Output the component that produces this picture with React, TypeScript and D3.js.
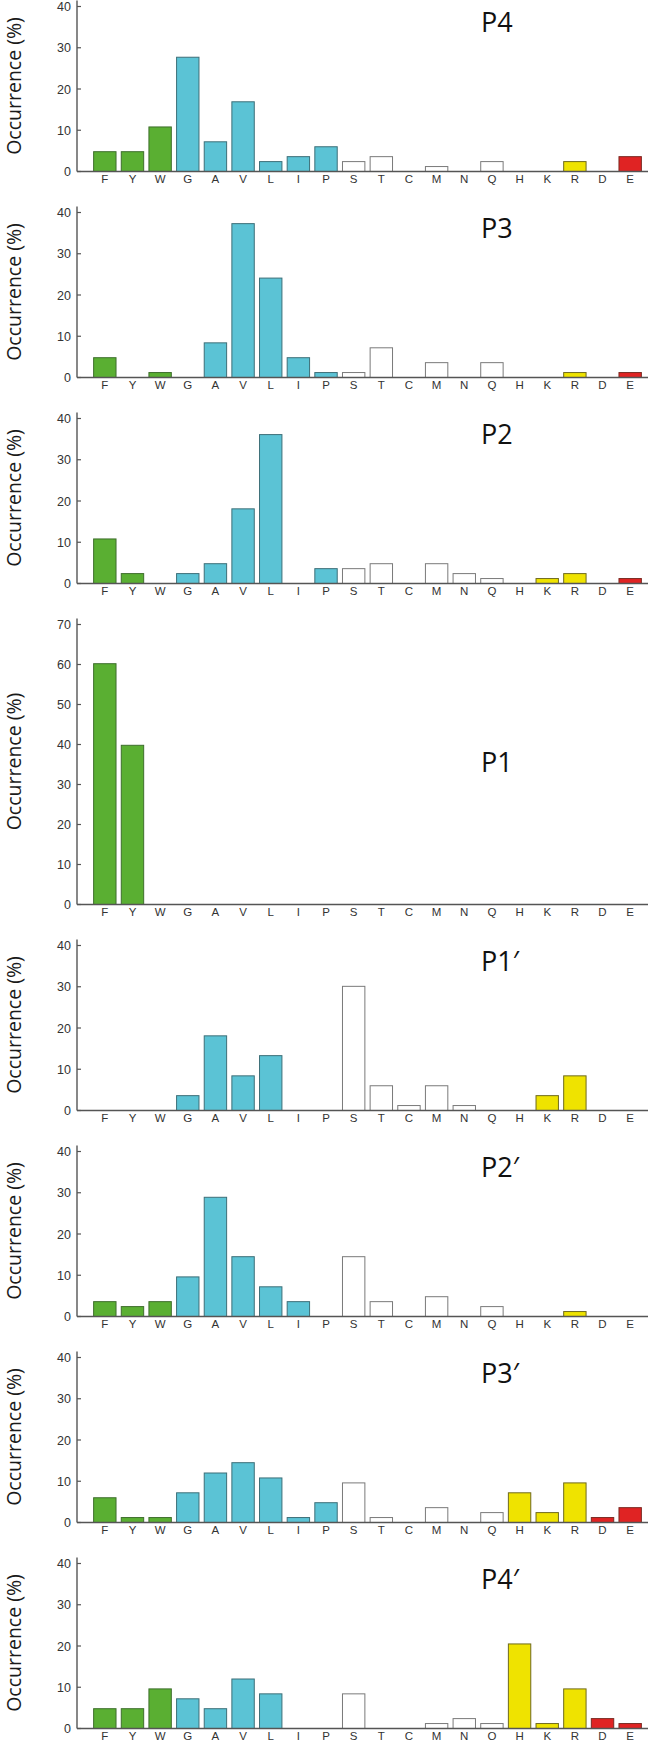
import React from "react";
import * as d3 from "d3";

const CATEGORIES = ["F","Y","W","G","A","V","L","I","P","S","T","C","M","N","Q","H","K","R","D","E"];
const GROUPS = ["aro","aro","aro","hyd","hyd","hyd","hyd","hyd","hyd","pol","pol","pol","pol","pol","pol","pos","pos","pos","neg","neg"];

const PANEL_NAMES = ["P4","P3","P2","P1","P1\u2032","P2\u2032","P3\u2032","P4\u2032"];
const PANEL_MAX = [40, 40, 40, 70, 40, 40, 40, 40];
const TICKS_40 = [0, 10, 20, 30, 40];
const TICKS_70 = [0, 10, 20, 30, 40, 50, 60, 70];

const P4 = [4.8,4.8,10.8,27.7,7.2,16.9,2.4,3.6,6.0,2.4,3.6,0,1.2,0,2.4,0,0,2.4,0,3.6];
const P3 = [4.8,0,1.2,0,8.4,37.3,24.1,4.8,1.2,1.2,7.2,0,3.6,0,3.6,0,0,1.2,0,1.2];
const P2 = [10.8,2.4,0,2.4,4.8,18.1,36.1,0,3.6,3.6,4.8,0,4.8,2.4,1.2,0,1.2,2.4,0,1.2];
const P1 = [60.2,39.8,0,0,0,0,0,0,0,0,0,0,0,0,0,0,0,0,0,0];
const P1p = [0,0,0,3.6,18.1,8.4,13.3,0,0,30.1,6.0,1.2,6.0,1.2,0,0,3.6,8.4,0,0];
const P2p = [3.6,2.4,3.6,9.6,28.9,14.5,7.2,3.6,0,14.5,3.6,0,4.8,0,2.4,0,0,1.2,0,0];
const P3p = [6.0,1.2,1.2,7.2,12.0,14.5,10.8,1.2,4.8,9.6,1.2,0,3.6,0,2.4,7.2,2.4,9.6,1.2,3.6];
const P4p = [4.8,4.8,9.6,7.2,4.8,12.0,8.4,0,0,8.4,0,0,1.2,2.4,1.2,20.5,1.2,9.6,2.4,1.2];

const SERIES = [P4, P3, P2, P1, P1p, P2p, P3p, P4p];

const FILL: Record<string, string> = {
  aro: "#5aaf32",
  hyd: "#5bc3d5",
  pol: "#ffffff",
  pos: "#efe300",
  neg: "#e02323",
};
const STROKE: Record<string, string> = {
  aro: "#3e6e2c",
  hyd: "#3d6f78",
  pol: "#7a7a7a",
  pos: "#6f6a1e",
  neg: "#7a2a22",
};

const W = 651;
const H = 1740;
const AXIS_X = 77;
const AXIS_R = 648;
const UNIT40 = 165 / 40;
const UNIT70 = 280 / 70;
const GAP = 41;
const FIRST_TOP = 6.5;

export default function App() {
  const x = d3
    .scaleBand<string>()
    .domain(CATEGORIES)
    .range([91, 644])
    .paddingInner(0.19)
    .paddingOuter(0.095);

  let top = FIRST_TOP;
  const panels = SERIES.map((vals, i) => {
    const max = PANEL_MAX[i];
    const h = max === 70 ? max * UNIT70 : max * UNIT40;
    const zero = top + h;
    const y = d3.scaleLinear().domain([0, max]).range([zero, top]);
    const p = { vals, max, top, zero, y, name: PANEL_NAMES[i] };
    top = zero + GAP;
    return p;
  });

  return (
    <svg
      width={W}
      height={H}
      style={{ position: "absolute", left: 0, top: 0, display: "block", background: "#fff" }}
    >
      {panels.map((p, pi) => {
        const ticks = p.max === 70 ? TICKS_70 : TICKS_40;
        const mid = (p.top + p.zero) / 2;
        const labelY = p.max === 70 ? mid + 7 : p.top + 25;
        return (
          <g key={pi}>
            {p.vals.map((v, i) =>
              v > 0 ? (
                <rect
                  key={i}
                  x={x(CATEGORIES[i])}
                  y={p.y(v)}
                  width={x.bandwidth()}
                  height={p.y(0) - p.y(v)}
                  fill={FILL[GROUPS[i]]}
                  stroke={STROKE[GROUPS[i]]}
                  strokeWidth={1}
                />
              ) : null
            )}
            <line x1={AXIS_X} x2={AXIS_X} y1={p.top - 6} y2={p.zero} stroke="#555" strokeWidth={1.4} />
            <line x1={AXIS_X} x2={AXIS_R} y1={p.zero} y2={p.zero} stroke="#555" strokeWidth={1.4} />
            {ticks.map((t) => (
              <g key={t}>
                <line x1={AXIS_X} x2={AXIS_X + 4} y1={p.y(t)} y2={p.y(t)} stroke="#555" strokeWidth={1.2} />
                <text
                  x={71}
                  y={p.y(t)}
                  dy="0.36em"
                  textAnchor="end"
                  fontFamily="'Liberation Sans', Arial, sans-serif"
                  fontSize={12.5}
                  fill="#333"
                >
                  {t}
                </text>
              </g>
            ))}
            {CATEGORIES.map((c) => (
              <text
                key={c}
                x={(x(c) as number) + x.bandwidth() / 2}
                y={p.zero + 11}
                textAnchor="middle"
                fontFamily="'Liberation Sans', Arial, sans-serif"
                fontSize={11.5}
                fill="#333"
              >
                {c}
              </text>
            ))}
            <text
              transform={`translate(21, ${mid - 3}) rotate(-90)`}
              textAnchor="middle"
              fontFamily="'Open Sans', sans-serif"
              fontSize={19.5}
              fill="#1a1a1a"
            >
              Occurrence (%)
            </text>
            <text
              x={481}
              y={labelY}
              fontFamily="'Open Sans', sans-serif"
              fontSize={27}
              fill="#111"
            >
              {p.name}
            </text>
          </g>
        );
      })}
    </svg>
  );
}
